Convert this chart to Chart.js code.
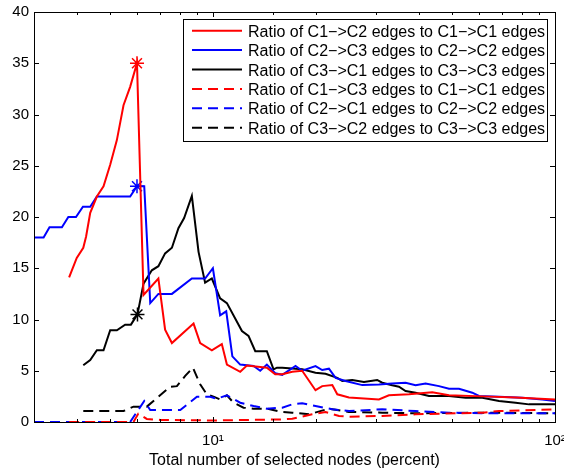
<!DOCTYPE html>
<html>
<head>
<meta charset="utf-8">
<script src="https://cdn.jsdelivr.net/npm/chart.js@4/dist/chart.umd.min.js"></script>
<style>
  html, body { margin: 0; padding: 0; background: #fff; }
</style>
</head>
<body>
<canvas id="edgeChart" width="564" height="472"></canvas>
<script>
// series (x = percent of selected nodes, log axis)
const xC1C2 = [3.80, 4.00, 4.18, 4.26, 4.38, 4.58, 4.79, 5.01, 5.24, 5.48, 5.73, 6.00, 6.27, 6.93, 7.25, 7.59, 8.78, 9.18, 9.93, 10.62, 10.99, 12.02, 12.57, 14.38, 15.21, 15.95, 17.06, 18.24, 19.95, 20.87, 22.34, 23.10, 24.99, 30.57, 32.70, 37.43, 43.78, 48.99, 61.31, 76.71, 100];
const yC1C2 = [14.1, 16.0, 17.0, 18.1, 20.4, 22.0, 23.0, 25.1, 27.5, 30.9, 32.7, 35.0, 12.4, 14.0, 9.0, 7.7, 9.6, 7.7, 7.0, 7.6, 5.6, 4.9, 5.5, 5.3, 4.65, 4.65, 4.9, 5.0, 3.1, 3.5, 3.6, 2.7, 2.4, 2.2, 2.6, 2.7, 2.9, 2.6, 2.5, 2.4, 2.2];

const xC2C3 = [3.00, 3.20, 3.33, 3.62, 3.78, 3.98, 4.17, 4.38, 4.58, 5.73, 6.00, 6.30, 6.56, 6.93, 7.59, 8.68, 9.49, 10.0, 10.50, 10.94, 11.40, 12.02, 13.15, 13.75, 14.38, 15.21, 15.95, 17.44, 18.24, 19.95, 20.87, 21.84, 22.84, 24.42, 27.33, 30.57, 33.43, 36.58, 39.13, 41.85, 45.80, 48.99, 52.41, 57.32, 59.97, 68.61, 80.25, 91.80, 100];
const yC2C3 = [18.0, 18.0, 19.0, 19.0, 20.0, 20.0, 21.0, 21.0, 22.0, 22.0, 23.0, 23.0, 11.6, 12.5, 12.5, 14.0, 14.0, 15.0, 10.4, 10.8, 6.4, 5.6, 5.46, 5.0, 5.6, 4.75, 4.6, 5.46, 5.0, 5.46, 5.07, 5.2, 4.3, 4.0, 3.6, 3.67, 3.76, 3.83, 3.58, 3.76, 3.5, 3.25, 3.25, 2.86, 2.54, 2.47, 2.37, 2.2, 2.05];

const xC3C1 = [4.18, 4.38, 4.58, 4.79, 5.01, 5.24, 5.54, 5.76, 6.02, 6.27, 6.63, 6.93, 7.25, 7.59, 7.93, 8.24, 8.68, 9.08, 9.49, 9.93, 10.50, 10.99, 12.16, 12.71, 13.30, 14.38, 15.04, 15.39, 15.95, 18.24, 19.95, 21.34, 23.10, 23.89, 25.55, 27.64, 30.22, 31.26, 33.43, 34.99, 36.58, 39.13, 42.82, 48.99, 54.79, 61.31, 68.61, 76.71, 83.95, 100];
const yC3C1 = [5.53, 6.05, 7.0, 7.0, 8.95, 8.95, 9.5, 9.5, 10.5, 13.5, 14.8, 15.2, 16.45, 17.0, 18.9, 19.9, 22.05, 16.6, 13.6, 14.0, 12.07, 11.6, 8.88, 8.4, 6.9, 6.9, 5.14, 5.3, 5.3, 5.14, 4.8, 4.7, 4.3, 4.0, 4.1, 3.9, 4.1, 3.83, 3.58, 3.44, 3.02, 2.86, 2.54, 2.54, 2.37, 2.37, 2.05, 1.88, 1.72, 1.72];

const xC1C3 = [3.80, 5.86, 6.05, 6.41, 7.01, 10.0, 15.95, 17.06, 19.51, 21.34, 23.37, 24.99, 31.26, 39.13, 61.31, 68.61, 100];
const yC1C3 = [0, 0, 0.8, 0.3, 0.2, 0.15, 0.25, 0.32, 0.75, 0.98, 0.59, 0.52, 0.59, 0.75, 0.91, 1.07, 1.24];

const xC2C1 = [3.00, 5.73, 6.30, 6.56, 8.03, 8.98, 9.82, 10.27, 10.99, 12.02, 13.15, 14.38, 15.95, 17.06, 18.24, 19.95, 22.34, 24.99, 31.26, 39.13, 48.99, 61.31, 100];
const yC2C1 = [0, 0, 2.05, 1.17, 1.17, 2.47, 2.47, 2.27, 2.6, 1.88, 1.56, 1.3, 1.4, 1.72, 1.82, 1.56, 1.24, 1.07, 1.24, 1.07, 0.91, 0.85, 0.85];

const xC3C2 = [4.18, 5.48, 5.86, 6.41, 7.01, 7.50, 7.85, 8.30, 8.74, 9.18, 9.60, 10.04, 10.50, 10.99, 11.49, 12.29, 13.15, 14.38, 15.95, 17.06, 19.08, 21.84, 24.99, 31.26, 39.13, 61.31, 100];
const yC3C2 = [1.07, 1.07, 1.5, 1.5, 2.6, 3.44, 3.5, 4.5, 5.3, 3.67, 2.7, 2.47, 2.2, 2.6, 1.88, 1.4, 1.3, 1.3, 0.98, 0.91, 0.75, 1.3, 0.98, 0.91, 0.85, 0.91, 0.85];

// starred peaks
const starX = [6.00, 6.00, 6.02];
const starY = [35.0, 23.0, 10.5];
const starColors = ['#ff0000', '#0000ff', '#000000'];

const yTicks = [0, 5, 10, 15, 20, 25, 30, 35, 40];

const labels = [
    'Ratio of C1\u2212>C2 edges to C1\u2212>C1 edges',
    'Ratio of C2\u2212>C3 edges to C2\u2212>C2 edges',
    'Ratio of C3\u2212>C1 edges to C3\u2212>C3 edges',
    'Ratio of C1\u2212>C3 edges to C1\u2212>C1 edges',
    'Ratio of C2\u2212>C1 edges to C2\u2212>C2 edges',
    'Ratio of C3\u2212>C2 edges to C3\u2212>C3 edges'
];

function pts(xs, ys) {
    return xs.map((x, i) => ({ x: x, y: ys[i] }));
}

function lineSet(label, xs, ys, color, dashed) {
    return {
        label: label,
        data: pts(xs, ys),
        borderColor: color,
        backgroundColor: color,
        borderWidth: 2,
        borderDash: dashed ? [10, 6] : [],
        pointRadius: 0,
        tension: 0,
        fill: false
    };
}

const FONT = '"Liberation Sans", Arial, Helvetica, sans-serif';
Chart.defaults.font.family = FONT;
Chart.defaults.color = '#000';

// matlab-like frame: box, inward ticks on all sides, legend box inside the axes
const framePlugin = {
    id: 'frame',
    afterDraw(chart) {
        const ctx = chart.ctx;
        const a = chart.chartArea;
        const xs = chart.scales.x;
        const ys = chart.scales.y;
        ctx.save();
        ctx.strokeStyle = '#000';
        ctx.lineWidth = 1;
        ctx.setLineDash([]);
        ctx.beginPath();
        ys.ticks.forEach(t => {
            const py = Math.round(ys.getPixelForValue(t.value)) + 0.5;
            ctx.moveTo(a.left, py); ctx.lineTo(a.left + 5, py);
            ctx.moveTo(a.right, py); ctx.lineTo(a.right - 5, py);
        });
        xs.ticks.forEach(t => {
            const major = Math.abs(Math.log10(t.value) - Math.round(Math.log10(t.value))) < 1e-6;
            const len = major ? 5 : 3;
            const px = Math.round(xs.getPixelForValue(t.value)) + 0.5;
            ctx.moveTo(px, a.bottom); ctx.lineTo(px, a.bottom - len);
            ctx.moveTo(px, a.top); ctx.lineTo(px, a.top + len);
        });
        ctx.stroke();
        ctx.strokeRect(Math.round(a.left) + 0.5, Math.round(a.top) + 0.5,
            Math.round(a.right - a.left), Math.round(a.bottom - a.top));

        // legend
        const bx = 183.5, by = 19.5, bw = 364, bh = 122;
        ctx.fillStyle = '#fff';
        ctx.fillRect(bx, by, bw, bh);
        ctx.strokeRect(bx, by, bw, bh);
        ctx.font = '16px ' + FONT;
        ctx.textBaseline = 'alphabetic';
        ctx.textAlign = 'left';
        chart.data.datasets.forEach((ds, i) => {
            if (i > 5) return;
            const cy = 30.7 + i * 19.4;
            ctx.strokeStyle = ds.borderColor;
            ctx.lineWidth = 2;
            ctx.setLineDash(ds.borderDash);
            ctx.beginPath();
            ctx.moveTo(192, cy); ctx.lineTo(242, cy);
            ctx.stroke();
            ctx.setLineDash([]);
            ctx.fillStyle = '#000';
            ctx.fillText(ds.label, 248, cy + 6);
        });
        ctx.restore();
    }
};

const datasets = [
    lineSet(labels[0], xC1C2, yC1C2, '#ff0000', false),
    lineSet(labels[1], xC2C3, yC2C3, '#0000ff', false),
    lineSet(labels[2], xC3C1, yC3C1, '#000000', false),
    lineSet(labels[3], xC1C3, yC1C3, '#ff0000', true),
    lineSet(labels[4], xC2C1, yC2C1, '#0000ff', true),
    lineSet(labels[5], xC3C2, yC3C2, '#000000', true)
];
starX.forEach((x, i) => {
    datasets.push({
        type: 'scatter',
        label: '',
        data: [{ x: x, y: starY[i] }],
        pointStyle: 'star',
        pointRadius: 7,
        borderColor: starColors[i],
        backgroundColor: starColors[i],
        borderWidth: 1.5
    });
});

new Chart(document.getElementById('edgeChart'), {
    type: 'line',
    data: { datasets: datasets },
    plugins: [framePlugin],
    options: {
        responsive: false,
        animation: false,
        events: [],
        layout: { autoPadding: false, padding: { top: 12, right: 9, left: 0, bottom: 0 } },
        plugins: {
            legend: { display: false },
            tooltip: { enabled: false }
        },
        scales: {
            x: {
                type: 'logarithmic',
                min: 3,
                max: 100,
                grid: { display: false, drawTicks: false },
                border: { display: false },
                ticks: {
                    autoSkip: false,
                    maxRotation: 0,
                    padding: 10,
                    font: { size: 15 },
                    callback: function(v) {
                        if (v === 10) return '10\u00b9';
                        if (v === 100) return '10\u00b2';
                        return '';
                    }
                },
                title: {
                    display: true,
                    text: 'Total number of selected nodes (percent)',
                    font: { size: 16 },
                    padding: { top: 0, bottom: 2 }
                },
                afterFit: function(s) {
                    s.height = 50;
                    s.paddingLeft = 0;
                    s.paddingRight = 0;
                }
            },
            y: {
                min: 0,
                max: 40,
                grid: { display: false, drawTicks: false },
                border: { display: false },
                afterBuildTicks: function(s) { s.ticks = yTicks.map(v => ({ value: v })); },
                ticks: { padding: 5, font: { size: 15 } },
                afterFit: function(s) {
                    s.width = 34;
                    s.paddingTop = 0;
                    s.paddingBottom = 0;
                }
            }
        }
    }
});
</script>
</body>
</html>
